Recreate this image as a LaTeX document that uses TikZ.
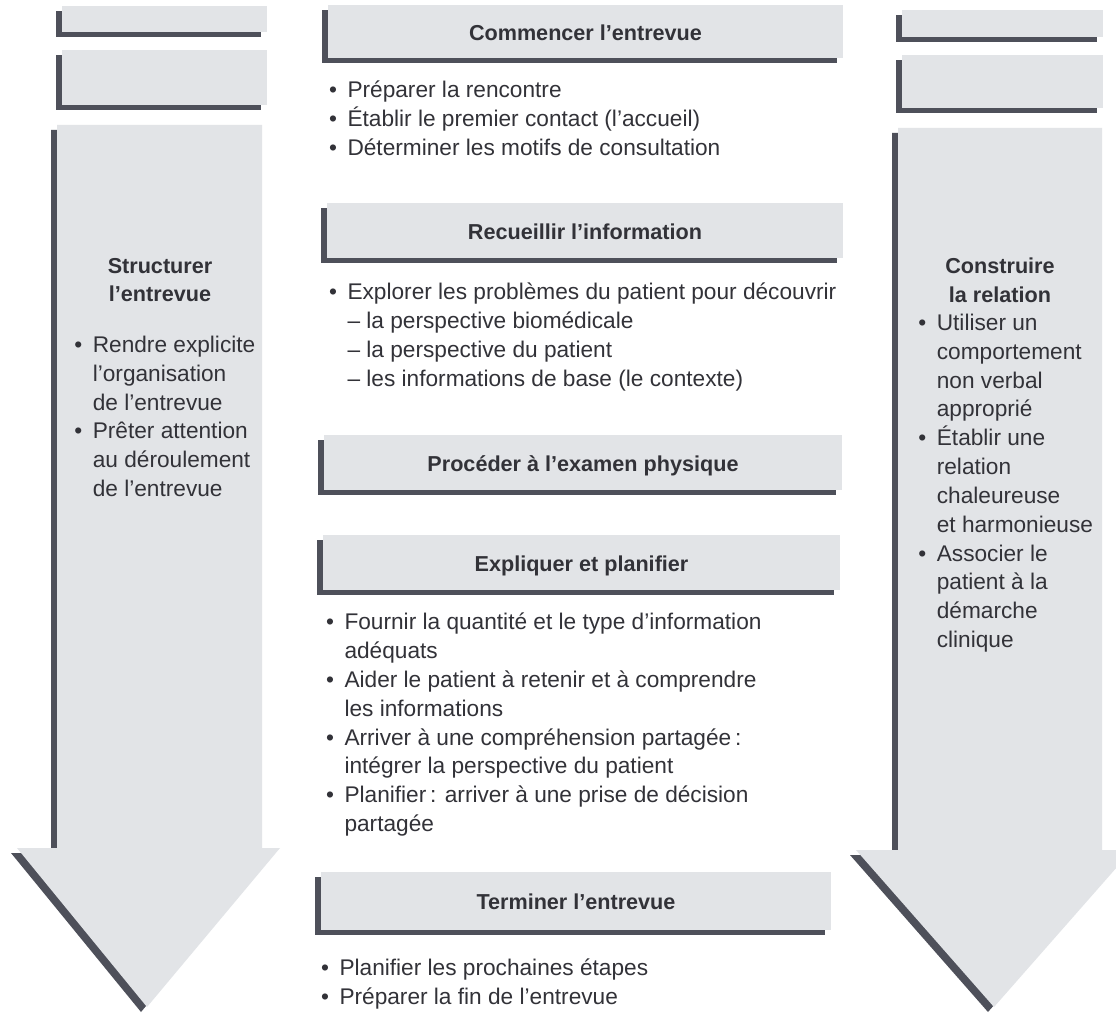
\documentclass[tikz,border=0pt]{standalone}
\usepackage{fontspec}
\setmainfont{Liberation Sans}
\usetikzlibrary{positioning,shadows}

\definecolor{boxgray}{RGB}{226,228,231}
\definecolor{edgegray}{RGB}{78,80,90}
\definecolor{inkgray}{RGB}{50,50,56}

\newcommand{\puce}{\textbullet}

\begin{document}
\begin{tikzpicture}
[x=0.02cm, y=-0.02cm,
% STYLES
% The band style gives the grey fill with its dark offset edge
band/.style={fill=boxgray, drop shadow={shadow xshift=-0.12cm, shadow yshift=-0.1cm, fill=edgegray, opacity=1}},
% The stage style is used for the headings of the centre column
stage/.style={band, rectangle, inner sep=0pt, minimum height=1.1cm, text height=10pt, text depth=0pt, text=inkgray, font=\bfseries\fontsize{12.3}{16.4}\selectfont},
% The points style is used for the bullet lists
points/.style={inner sep=0pt, text=inkgray, font=\fontsize{12.9}{16.4}\selectfont},
% The title style is used for the names of the two arrows
title/.style={inner sep=0pt, align=center, text=inkgray, font=\bfseries\fontsize{12.3}{16.4}\selectfont}]

\useasboundingbox (0,0) rectangle (1116,1013);
\fill[white] (0,0) rectangle (1116,1013);
\clip (0,0) rectangle (1116,1013);

% Left arrow
\node [band, inner sep=0pt, minimum width=4.1cm, minimum height=0.52cm] (lbandA) at (164.5,19) {};
\node [band, inner sep=0pt, minimum width=4.1cm, minimum height=1.1cm] (lbandB) at (164.5,77.5) {};
\path [band] (57,125) -- (262,125) -- (262,848) -- (280,848) -- (147,1007) -- (17,848) -- (57,848) -- cycle;

% Right arrow
\node [band, inner sep=0pt, minimum width=4.02cm, minimum height=0.54cm] (rbandA) at (1002.5,23.5) {};
\node [band, inner sep=0pt, minimum width=4.02cm, minimum height=1.06cm] (rbandB) at (1002.5,81.5) {};
\path [band] (898,128) -- (1102,128) -- (1102,850) -- (1132,850) -- (994,1007) -- (856,850) -- (898,850) -- cycle;

% STRUCTURER
\node [title] (structurer) at (160,280) {Structurer\\l’entrevue};
\node [points, anchor=north west] (pstructurer) at (74,332) {\begin{tabular}[t]{@{}l@{\hspace{6pt}}l@{}}
\puce & Rendre explicite\\
 & l’organisation\\
 & de l’entrevue\\
\puce & Prêter attention\\
 & au déroulement\\
 & de l’entrevue
\end{tabular}};

% CONSTRUIRE
\node [title] (construire) at (1000,280) {Construire\\la relation};
\node [points, anchor=north west] (pconstruire) at (918,310) {\begin{tabular}[t]{@{}l@{\hspace{6pt}}l@{}}
\puce & Utiliser un\\
 & comportement\\
 & non verbal\\
 & approprié\\
\puce & Établir une\\
 & relation\\
 & chaleureuse\\
 & et harmonieuse\\
\puce & Associer le\\
 & patient à la\\
 & démarche\\
 & clinique
\end{tabular}};

% Draw stages
\node [stage, minimum width=10.3cm, minimum height=1.06cm] (commencer) at (585.5,31.5) {Commencer l’entrevue};
\node [stage, minimum width=10.32cm] (recueillir) at (585,230.5) {Recueillir l’information};
\node [stage, minimum width=10.36cm] (proceder) at (583,462.5) {Procéder à l’examen physique};
\node [stage, minimum width=10.34cm] (expliquer) at (581.5,562.5) {Expliquer et planifier};
\node [stage, minimum width=10.2cm, minimum height=1.16cm] (terminer) at (576,901) {Terminer l’entrevue};

% COMMENCER
\node [points, below right=0.38cm and 0.02cm of commencer.south west] (pcommencer) {\begin{tabular}[t]{@{}l@{\hspace{6pt}}l@{}}
\puce & Préparer la rencontre\\
\puce & Établir le premier contact (l’accueil)\\
\puce & Déterminer les motifs de consultation
\end{tabular}};
% RECUEILLIR
\node [points, below right=0.42cm and 0.04cm of recueillir.south west] (precueillir) {\begin{tabular}[t]{@{}l@{\hspace{6pt}}l@{}}
\puce & Explorer les problèmes du patient pour découvrir\\
 & – la perspective biomédicale\\
 & – la perspective du patient\\
 & – les informations de base (le contexte)
\end{tabular}};
% EXPLIQUER
\node [points, below right=0.38cm and 0.06cm of expliquer.south west] (pexpliquer) {\begin{tabular}[t]{@{}l@{\hspace{6pt}}l@{}}
\puce & Fournir la quantité et le type d’information\\
 & adéquats\\
\puce & Aider le patient à retenir et à comprendre\\
 & les informations\\
\puce & Arriver à une compréhension partagée\,:\\
 & intégrer la perspective du patient\\
\puce & Planifier\,: arriver à une prise de décision\\
 & partagée
\end{tabular}};
% TERMINER
\node [points, below right=0.5cm and 0cm of terminer.south west] (pterminer) {\begin{tabular}[t]{@{}l@{\hspace{6pt}}l@{}}
\puce & Planifier les prochaines étapes\\
\puce & Préparer la fin de l’entrevue
\end{tabular}};

\end{tikzpicture}
\end{document}
